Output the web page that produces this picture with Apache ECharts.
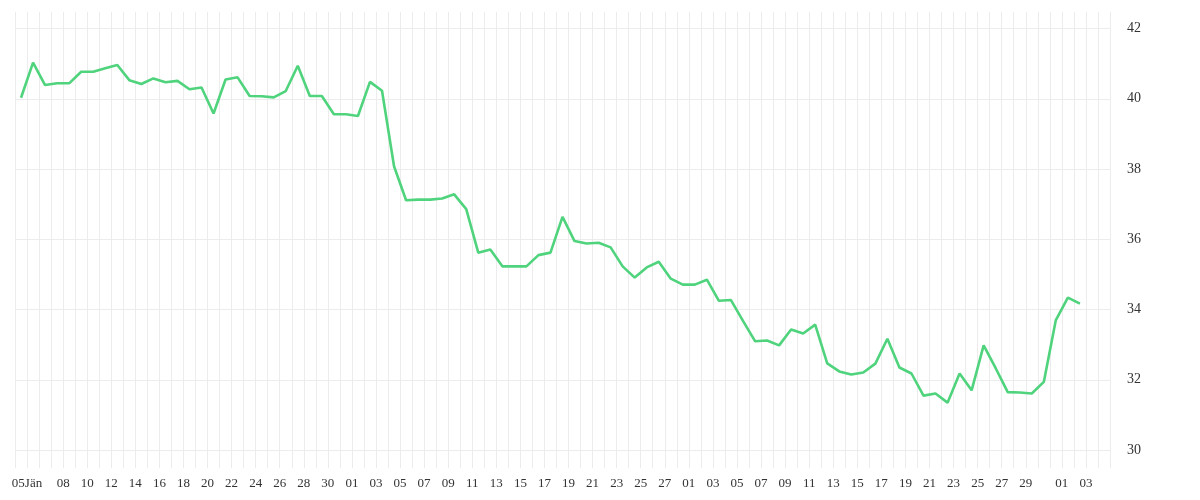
<!DOCTYPE html>
<html>
<head>
<meta charset="utf-8">
<script src="https://cdn.jsdelivr.net/npm/echarts@6/dist/echarts.min.js"></script>
<style>
  html, body { margin: 0; padding: 0; background: #fff; }
  #chart { width: 1200px; height: 500px; }
</style>
</head>
<body>
<div id="chart"></div>
<script>
// Day 0 = 4 Jan; one value per day, plotted at the middle of its day
const values = [
  40.03, 41.03, 40.39, 40.44, 40.44, 40.77, 40.77, 40.87, 40.96, 40.53, 40.42, 40.58,
  40.47, 40.51, 40.27, 40.32, 39.58, 40.55, 40.61, 40.08, 40.07, 40.04, 40.22, 40.94,
  40.08, 40.08, 39.56, 39.56, 39.51, 40.48, 40.23, 38.08, 37.11, 37.13, 37.13, 37.16,
  37.28, 36.86, 35.62, 35.71, 35.23, 35.23, 35.23, 35.55, 35.62, 36.64,
  35.95, 35.88, 35.90, 35.77, 35.23, 34.91, 35.20, 35.36, 34.88, 34.71, 34.71, 34.85,
  34.25, 34.27, 33.68, 33.10, 33.12, 32.98, 33.43, 33.32, 33.57,
  32.47, 32.24, 32.15, 32.21, 32.46, 33.17, 32.35, 32.18, 31.55, 31.61, 31.35, 32.18,
  31.70, 32.98, 32.33, 31.65, 31.64, 31.61, 31.94, 33.70, 34.34, 34.17
];

// x tick labels: day offset (from 4 Jan) and text
const tickDays = [1, 4, 6, 8, 10, 12, 14, 16, 18, 20, 22, 24, 26,
  28, 30, 32, 34, 36, 38, 40, 42, 44, 46, 48, 50, 52, 54,
  56, 58, 60, 62, 64, 66, 68, 70, 72, 74, 76, 78, 80, 82, 84,
  87, 89];
const tickLabels = ['05Jän', '08', '10', '12', '14', '16', '18', '20', '22', '24', '26', '28', '30',
  '01', '03', '05', '07', '09', '11', '13', '15', '17', '19', '21', '23', '25', '27',
  '01', '03', '05', '07', '09', '11', '13', '15', '17', '19', '21', '23', '25', '27', '29',
  '01', '03'];

const xMin = 0, xMax = 91;
const yMin = 29.49, yMax = 42.47;

const labelMap = {};
tickDays.forEach((d, i) => { labelMap[d] = tickLabels[i]; });

const seriesData = values.map((v, i) => [i + 0.5, v]);

const chart = echarts.init(document.getElementById('chart'), null, { renderer: 'canvas' });
chart.setOption({
  animation: false,
  backgroundColor: '#ffffff',
  grid: { left: 15, right: 90, top: 12, bottom: 32, containLabel: false },
  xAxis: {
    type: 'value',
    min: xMin,
    max: xMax,
    interval: 1,
    axisLine: { show: false },
    axisTick: { show: false },
    splitLine: { show: true, showMinLine: true, showMaxLine: true, lineStyle: { color: '#ececec', width: 1 } },
    axisLabel: {
      show: true,
      margin: 9,
      color: '#333',
      fontFamily: 'Liberation Serif',
      fontSize: 13,
      hideOverlap: false,
      formatter: function (v) { return labelMap[Math.round(v)] || ''; }
    }
  },
  yAxis: {
    type: 'value',
    position: 'right',
    min: yMin,
    max: yMax,
    splitNumber: 6,
    minInterval: 2,
    maxInterval: 2,
    axisLine: { show: false },
    axisTick: { show: false },
    splitLine: { show: true, showMinLine: false, showMaxLine: false, lineStyle: { color: '#ececec', width: 1 } },
    axisLabel: {
      show: true,
      showMinLabel: false,
      showMaxLabel: false,
      margin: 17,
      color: '#333',
      fontFamily: 'Liberation Serif',
      fontSize: 14
    }
  },
  series: [{
    type: 'line',
    data: seriesData,
    showSymbol: false,
    symbol: 'none',
    lineStyle: { color: '#4fd37c', width: 2.6 },
    itemStyle: { color: '#4fd37c' }
  }]
});
</script>
</body>
</html>
